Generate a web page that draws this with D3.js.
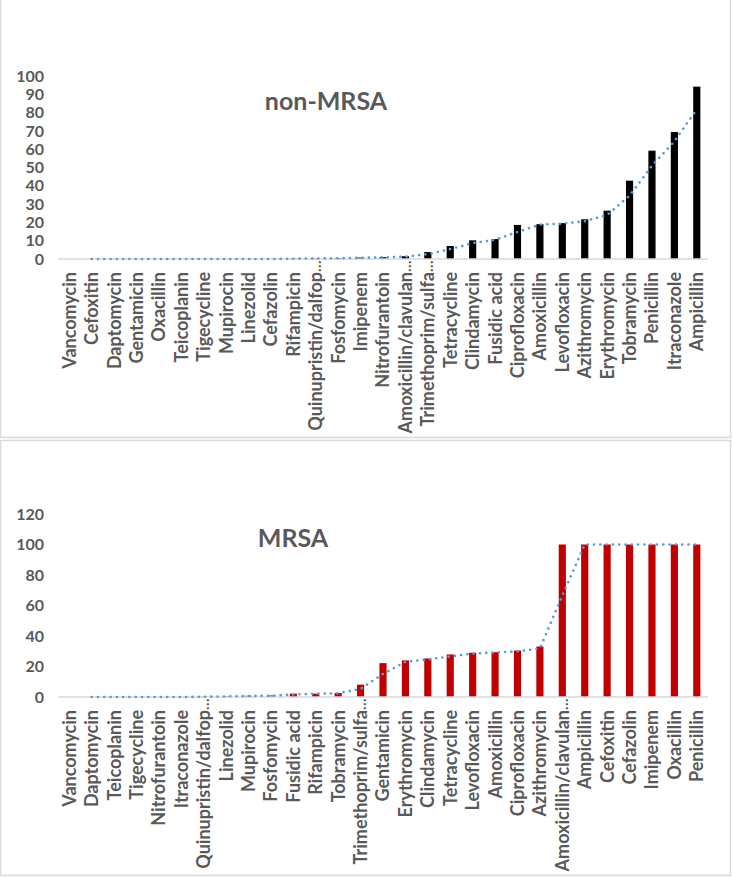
<!DOCTYPE html>
<html><head><meta charset="utf-8">
<script src="https://cdn.jsdelivr.net/npm/d3@7"></script>
<style>
html,body{margin:0;padding:0;background:#fff;}
text{font-family:Lato,"Noto Sans",sans-serif;font-weight:bold;fill:#595959;}
</style></head>
<body>
<svg id="chart" width="732" height="878"></svg>
<script>
const nonMrsaCategories = ["Vancomycin","Cefoxitin","Daptomycin","Gentamicin","Oxacillin","Teicoplanin","Tigecycline","Mupirocin","Linezolid","Cefazolin","Rifampicin","Quinupristin/dalfop…","Fosfomycin","Imipenem","Nitrofurantoin","Amoxicillin/clavulan…","Trimethoprim/sulfa…","Tetracycline","Clindamycin","Fusidic acid","Ciprofloxacin","Amoxicillin","Levofloxacin","Azithromycin","Erythromycin","Tobramycin","Penicillin","Itraconazole","Ampicillin"];
const nonMrsaValues = [0,0,0,0,0,0,0,0,0,0,0.3,0.3,0.5,0.8,1.0,1.5,3.8,7.1,10.2,10.9,18.6,19.0,19.6,21.7,26.4,42.8,59.2,69.4,94.2];
const nonMrsaTicks = [0,10,20,30,40,50,60,70,80,90,100];

const mrsaCategories = ["Vancomycin","Daptomycin","Teicoplanin","Tigecycline","Nitrofurantoin","Itraconazole","Quinupristin/dalfop…","Linezolid","Mupirocin","Fosfomycin","Fusidic acid","Rifampicin","Tobramycin","Trimethoprim/sulfa…","Gentamicin","Erythromycin","Clindamycin","Tetracycline","Levofloxacin","Amoxicillin","Ciprofloxacin","Azithromycin","Amoxicillin/clavulan…","Ampicillin","Cefoxitin","Cefazolin","Imipenem","Oxacillin","Penicillin"];
const mrsaValues = [0,0,0,0,0,0,0.3,0.5,0.8,1.0,2.2,2.2,2.6,8.1,22.2,24.0,25.3,27.9,29.0,29.4,30.5,33.1,100,100,100,100,100,100,100];
const mrsaTicks = [0,20,40,60,80,100,120];

const svg = d3.select("#chart");

// panel borders
svg.append("path").attr("d","M0.5,-1V437.5H730.5V-1").attr("fill","none").attr("stroke","#d9d9d9").attr("stroke-width",1.5);
svg.append("rect").attr("x",0.5).attr("y",440.5).attr("width",730).attr("height",435).attr("fill","none").attr("stroke","#d9d9d9").attr("stroke-width",1.5);

function drawPanel(opt){
  const {cats, vals, ticks, yMax, y0, yTop, color, title, titleX, titleY} = opt;
  const g = svg.append("g");
  const x = d3.scaleBand().domain(cats).range([58,708]).paddingInner(0.68).paddingOuter(0.34);
  const y = d3.scaleLinear().domain([0,yMax]).range([y0,yTop]);

  const yAxis = d3.axisLeft(y).tickValues(ticks).tickSize(0).tickPadding(0);
  const ya = g.append("g").attr("transform","translate(44,0)").call(yAxis);
  ya.select(".domain").remove();
  ya.selectAll("text").attr("font-size",16).style("font-family","Lato, sans-serif").style("font-weight","bold").attr("fill","#595959");

  g.selectAll("rect.bar").data(cats).enter().append("rect").attr("class","bar")
    .attr("x",d=>x(d)).attr("width",x.bandwidth())
    .attr("y",(d,i)=>y(vals[i])).attr("height",(d,i)=>y0-y(vals[i]))
    .attr("fill",color);

  g.append("line").attr("x1",58).attr("x2",708).attr("y1",y0).attr("y2",y0).attr("stroke","#d9d9d9").attr("stroke-width",1.5);

  // 2-period moving average trendline
  const ma = [];
  for(let i=1;i<vals.length;i++) ma.push({c:cats[i], v:(vals[i]+vals[i-1])/2});
  const line = d3.line().x(d=>x(d.c)+x.bandwidth()/2).y(d=>y(d.v));
  g.append("path").datum(ma).attr("d",line).attr("fill","none")
    .attr("stroke","#5b9bd5").attr("stroke-width",2.6).attr("stroke-linecap","round")
    .attr("stroke-dasharray","0.1 6.2");

  const lab = g.selectAll("g.lab").data(cats).enter().append("g").attr("class","lab")
    .attr("transform",d=>`translate(${x(d)+x.bandwidth()/2},${y0+13}) rotate(-90)`);
  lab.append("text").attr("text-anchor","end").attr("dy","0.36em").attr("font-size",18)
    .text(d=>d.replace("…",""));
  lab.filter(d=>d.includes("…")).append("text").attr("text-anchor","start").attr("dy","0.36em").attr("font-size",15)
    .text("…");

  g.append("text").attr("x",titleX).attr("y",titleY).attr("text-anchor","middle").attr("font-size",25).text(title);
}

drawPanel({cats:nonMrsaCategories, vals:nonMrsaValues, ticks:nonMrsaTicks, yMax:100, y0:259, yTop:76, color:"#000000", title:"non-MRSA", titleX:326, titleY:110});
drawPanel({cats:mrsaCategories, vals:mrsaValues, ticks:mrsaTicks, yMax:120, y0:697, yTop:514, color:"#c00000", title:"MRSA", titleX:293, titleY:547});
</script>
</body></html>
